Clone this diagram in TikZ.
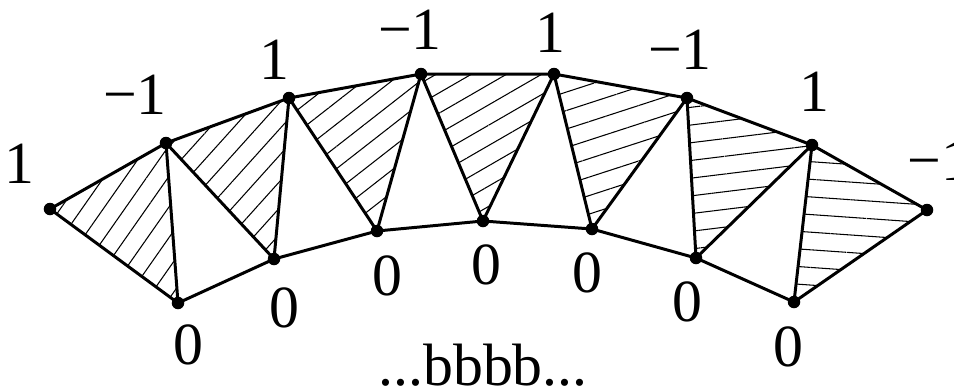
\documentclass[tikz,border=0pt]{standalone}
\usepackage{fontspec}
\setmainfont{Liberation Serif}
\usetikzlibrary{patterns.meta}

\begin{document}
\begin{tikzpicture}[
  x=0.01cm, y=-0.01cm,
  edge/.style={line width=0.85pt, line join=round},
  vtx/.style={circle, fill, inner sep=0pt, minimum size=0.125cm},
  lbl/.style={inner sep=0pt, font=\fontsize{17}{20}\selectfont},
  hatch/.style={pattern={Lines[angle=#1, distance=5pt, line width=0.3pt]}}
]
\useasboundingbox (0,0) rectangle (954,387);

% upper row
\coordinate (t0) at (50,209);
\coordinate (t1) at (166,143);
\coordinate (t2) at (289,98);
\coordinate (t3) at (421,74);
\coordinate (t4) at (554,74);
\coordinate (t5) at (687,98);
\coordinate (t6) at (812,145);
\coordinate (t7) at (927,210);
% lower row
\coordinate (b0) at (178,303);
\coordinate (b1) at (274,259);
\coordinate (b2) at (377,231);
\coordinate (b3) at (483,221);
\coordinate (b4) at (592,229);
\coordinate (b5) at (696,258);
\coordinate (b6) at (794,302);

% hatched triangles
\fill[hatch=55] (t0) -- (t1) -- (b0) -- cycle;
\fill[hatch=48] (t1) -- (t2) -- (b1) -- cycle;
\fill[hatch=38] (t2) -- (t3) -- (b2) -- cycle;
\fill[hatch=30] (t3) -- (t4) -- (b3) -- cycle;
\fill[hatch=18] (t4) -- (t5) -- (b4) -- cycle;
\fill[hatch=7] (t5) -- (t6) -- (b5) -- cycle;
\fill[hatch=-4] (t6) -- (t7) -- (b6) -- cycle;

% edges
\draw[edge] (t0) -- (t1) -- (t2) -- (t3) -- (t4) -- (t5) -- (t6) -- (t7);
\draw[edge] (t0) -- (b0) -- (b1) -- (b2) -- (b3) -- (b4) -- (b5) -- (b6) -- (t7);
\draw[edge] (b0) -- (t1) -- (b1) -- (t2) -- (b2) -- (t3) -- (b3) -- (t4)
  -- (b4) -- (t5) -- (b5) -- (t6) -- (b6);

% vertices
\foreach \p in {t0,t1,t2,t3,t4,t5,t6,t7,b0,b1,b2,b3,b4,b5,b6}
  \node[vtx] at (\p) {};

% values
\node[lbl] (v0) at (19,164) {1};
\node[lbl] (v1) at (135,95) {−1};
\node[lbl] (v2) at (274,60) {1};
\node[lbl] (v3) at (410,30) {−1};
\node[lbl] (v4) at (550,33) {1};
\node[lbl] (v5) at (680,50) {−1};
\node[lbl] (v6) at (814,92) {1};
\node[lbl, anchor=west] (v7) at (907,161) {−1};
\node[lbl] (z0) at (188,345) {0};
\node[lbl] (z1) at (284,308) {0};
\node[lbl] (z2) at (387,276) {0};
\node[lbl] (z3) at (486,265) {0};
\node[lbl] (z4) at (587,273) {0};
\node[lbl] (z5) at (687,302) {0};
\node[lbl] (z6) at (788,347) {0};
\node[lbl, anchor=base] (dots) at (483,385) {...bbbb...};
\end{tikzpicture}
\end{document}
